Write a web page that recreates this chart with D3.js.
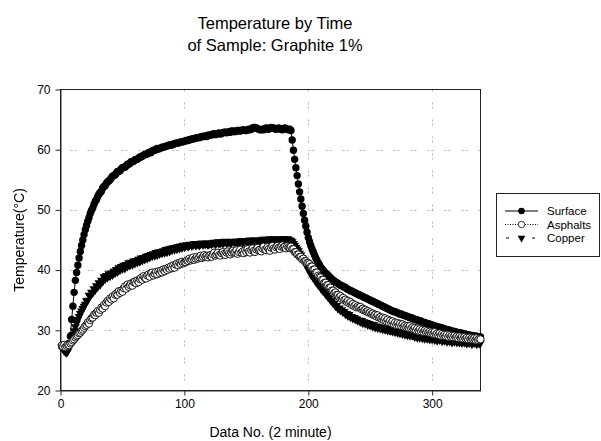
<!DOCTYPE html>
<html lang="en">
<head>
<meta charset="UTF-8">
<title>Temperature by Time</title>
<script src="https://d3js.org/d3.v7.min.js"></script>
<style>
  body {
    margin: 0;
    background: #fff;
    font-family: "Liberation Sans", Arial, sans-serif;
  }
  svg { display: block; }
  text { fill: #000; }
  .tick text { font-size: 12px; }
  .axis-title { font-size: 14px; }
  .title { font-size: 16.5px; }
  .legend-text { font-size: 11.5px; }
</style>
</head>
<body>
<div id="chart"></div>
<script>
  // Data No. runs 1..339, one reading every 2 minutes
  const surface = [
    27.3, 27.5, 27.2, 27.4, 27.6, 27.3, 27.8, 29.0, 31.8, 34.0, 36.3, 38.3, 39.6, 40.8, 42.0, 43.1, 44.1, 45.0, 45.9, 46.7,
    47.4, 48.1, 48.7, 49.4, 49.9, 50.3, 50.9, 51.4, 51.7, 52.2, 52.6, 52.9, 53.1, 53.6, 53.9, 54.0, 54.4, 54.7, 54.8, 55.0,
    55.3, 55.6, 55.7, 55.8, 56.1, 56.4, 56.4, 56.5, 56.8, 57.0, 57.1, 57.1, 57.3, 57.6, 57.6, 57.7, 58.0, 58.0, 58.1, 58.3,
    58.4, 58.4, 58.6, 58.8, 58.8, 58.9, 59.1, 59.2, 59.2, 59.3, 59.5, 59.6, 59.5, 59.8, 59.9, 59.9, 60.0, 60.2, 60.1, 60.2,
    60.3, 60.4, 60.4, 60.5, 60.6, 60.6, 60.7, 60.8, 60.8, 60.8, 60.9, 61.0, 61.1, 61.1, 61.1, 61.2, 61.3, 61.3, 61.3, 61.4,
    61.5, 61.5, 61.6, 61.6, 61.7, 61.8, 61.8, 61.8, 61.9, 62.0, 62.0, 62.0, 62.1, 62.2, 62.2, 62.2, 62.3, 62.2, 62.4, 62.4,
    62.4, 62.5, 62.6, 62.6, 62.5, 62.6, 62.7, 62.8, 62.6, 62.7, 62.8, 62.9, 62.9, 62.8, 62.9, 63.0, 62.9, 63.1, 63.0, 63.1,
    63.0, 63.1, 63.2, 63.2, 63.1, 63.2, 63.3, 63.3, 63.2, 63.2, 63.3, 63.4, 63.3, 63.4, 63.6, 63.7, 63.7, 63.6, 63.5, 63.4,
    63.3, 63.3, 63.4, 63.3, 63.5, 63.6, 63.5, 63.4, 63.6, 63.7, 63.6, 63.6, 63.5, 63.4, 63.5, 63.6, 63.5, 63.4, 63.3, 63.5,
    63.6, 63.5, 63.4, 63.3, 63.4, 63.2, 61.6, 59.9, 58.4, 57.0, 55.7, 54.3, 53.0, 51.8, 50.6, 49.4, 48.3, 47.3, 46.3, 45.4,
    44.7, 44.1, 43.5, 43.0, 42.5, 42.0, 41.6, 41.2, 40.9, 40.5, 40.2, 40.0, 39.7, 39.5, 39.3, 39.1, 38.9, 38.7, 38.5, 38.3,
    38.2, 38.0, 37.9, 37.8, 37.6, 37.5, 37.4, 37.3, 37.2, 37.1, 36.9, 36.8, 36.7, 36.6, 36.5, 36.4, 36.3, 36.2, 36.1, 36.0,
    35.9, 35.8, 35.7, 35.6, 35.5, 35.4, 35.3, 35.2, 35.1, 35.0, 34.9, 34.8, 34.7, 34.6, 34.5, 34.4, 34.3, 34.2, 34.1, 34.0,
    33.9, 33.8, 33.7, 33.6, 33.5, 33.4, 33.3, 33.2, 33.1, 33.1, 33.0, 32.9, 32.8, 32.7, 32.7, 32.6, 32.5, 32.4, 32.4, 32.3,
    32.2, 32.1, 32.1, 32.0, 31.9, 31.8, 31.8, 31.7, 31.6, 31.6, 31.5, 31.4, 31.3, 31.3, 31.2, 31.1, 31.1, 31.0, 30.9, 30.9,
    30.8, 30.7, 30.7, 30.6, 30.5, 30.5, 30.4, 30.4, 30.3, 30.2, 30.2, 30.1, 30.1, 30.0, 29.9, 29.9, 29.8, 29.8, 29.7, 29.7,
    29.6, 29.6, 29.5, 29.5, 29.4, 29.4, 29.3, 29.3, 29.2, 29.2, 29.2, 29.1, 29.1, 29.0, 29.0, 29.0, 28.9, 28.9, 28.9
  ];

  const asphalts = [
    27.5, 27.3, 27.6, 27.2, 27.4, 27.6, 27.5, 27.8, 28.0, 28.3, 28.5, 28.8, 29.0, 29.2, 29.5, 29.6, 29.9, 30.1, 30.4, 30.7,
    30.9, 31.3, 31.1, 31.7, 32.0, 32.1, 32.6, 32.5, 32.9, 33.2, 32.9, 33.4, 33.8, 33.6, 34.2, 34.0, 34.6, 34.9, 34.7, 35.3,
    35.1, 35.6, 35.3, 35.9, 36.1, 35.9, 36.5, 36.2, 36.6, 36.4, 37.0, 37.3, 36.9, 37.6, 37.2, 37.5, 37.8, 37.4, 38.0, 38.1,
    37.8, 38.3, 38.0, 38.5, 38.7, 38.4, 39.0, 38.7, 38.6, 39.1, 39.3, 38.9, 39.5, 39.6, 39.1, 39.4, 39.7, 39.3, 39.8, 39.5,
    39.9, 39.6, 40.1, 39.8, 40.2, 40.0, 40.4, 40.2, 40.6, 40.3, 40.8, 40.4, 40.9, 41.1, 40.8, 41.2, 41.0, 41.4, 41.1, 41.3,
    41.3, 41.6, 41.5, 41.9, 41.6, 41.8, 42.1, 41.7, 41.9, 42.2, 41.9, 42.1, 42.4, 42.0, 42.2, 42.5, 42.2, 42.4, 42.1, 42.4,
    42.5, 42.2, 42.6, 42.9, 42.4, 42.6, 42.9, 42.5, 42.4, 42.8, 43.0, 42.7, 42.5, 42.9, 43.1, 42.8, 42.6, 42.9, 43.2, 42.9,
    43.0, 43.3, 42.7, 43.0, 43.4, 42.9, 43.1, 42.8, 43.3, 43.0, 43.5, 43.1, 42.9, 43.3, 43.6, 43.2, 43.0, 43.4, 43.7, 43.3,
    43.4, 43.1, 43.6, 43.9, 43.4, 43.3, 43.8, 43.5, 43.2, 43.7, 44.0, 43.6, 43.4, 43.8, 44.0, 43.7, 43.5, 43.9, 44.1, 43.8,
    43.9, 43.6, 44.0, 43.8, 43.7, 43.9, 43.5, 43.5, 43.0, 43.0, 42.6, 42.6, 42.2, 42.2, 41.8, 41.9, 41.5, 41.5, 41.2, 41.2,
    41.0, 40.6, 40.6, 40.1, 40.1, 39.6, 39.6, 39.1, 38.9, 38.8, 38.4, 38.4, 37.9, 37.9, 37.5, 37.5, 37.1, 37.1, 36.6, 36.6,
    36.2, 36.3, 35.9, 35.9, 35.5, 35.7, 35.2, 35.4, 35.0, 35.1, 34.7, 34.9, 34.5, 34.7, 34.2, 34.4, 34.0, 34.2, 33.8, 34.0,
    33.8, 33.9, 33.5, 33.6, 33.3, 33.4, 33.1, 33.2, 32.9, 33.0, 32.7, 32.8, 32.5, 32.6, 32.3, 32.5, 32.1, 32.2, 31.9, 32.1,
    31.7, 32.0, 31.5, 31.8, 31.3, 31.6, 31.2, 31.5, 31.0, 31.3, 30.9, 31.2, 30.8, 31.1, 30.7, 31.0, 30.6, 30.8, 30.5, 30.7,
    30.4, 30.7, 30.3, 30.5, 30.2, 30.4, 30.0, 30.3, 29.9, 30.2, 29.8, 30.1, 29.7, 30.0, 29.7, 29.9, 29.6, 29.8, 29.5, 29.7,
    29.4, 29.7, 29.3, 29.5, 29.2, 29.5, 29.1, 29.4, 29.1, 29.3, 29.0, 29.3, 28.9, 29.2, 28.9, 29.1, 28.8, 29.1, 28.8, 29.0,
    28.7, 29.0, 28.7, 28.9, 28.6, 28.9, 28.6, 28.8, 28.5, 28.8, 28.5, 28.7, 28.5, 28.7, 28.4, 28.7, 28.4, 28.6, 28.5
  ];

  const copper = [
    27.2, 26.9, 26.6, 26.4, 26.3, 26.6, 27.2, 27.9, 28.6, 29.3, 29.9, 30.6, 31.2, 31.8, 32.3, 32.8, 33.2, 33.6, 34.0, 34.3,
    34.9, 35.0, 35.8, 35.7, 36.3, 36.2, 36.9, 36.7, 37.4, 37.2, 37.9, 37.6, 38.3, 38.1, 38.9, 38.5, 39.1, 38.8, 39.4, 39.0,
    39.5, 39.2, 39.8, 39.5, 40.1, 39.7, 40.4, 40.0, 40.6, 40.2, 40.8, 40.3, 40.9, 40.6, 41.2, 40.8, 41.3, 40.9, 41.5, 41.1,
    41.6, 41.3, 41.8, 41.4, 42.0, 41.6, 42.1, 41.8, 42.3, 41.9, 42.4, 42.1, 42.6, 42.3, 42.7, 42.4, 42.9, 42.5, 43.0, 42.7,
    43.1, 42.8, 43.2, 42.9, 43.4, 43.0, 43.5, 43.1, 43.6, 43.3, 43.7, 43.4, 43.8, 43.5, 43.9, 43.6, 44.0, 43.7, 44.1, 43.8,
    44.0, 44.2, 43.9, 44.1, 44.3, 44.0, 44.2, 44.4, 44.1, 44.2, 44.4, 44.1, 44.3, 44.5, 44.2, 44.4, 44.3, 44.5, 44.2, 44.3,
    44.5, 44.3, 44.5, 44.6, 44.3, 44.5, 44.7, 44.4, 44.5, 44.7, 44.4, 44.6, 44.8, 44.5, 44.6, 44.7, 44.5, 44.6, 44.8, 44.7,
    44.6, 44.8, 44.7, 44.5, 44.8, 44.9, 44.6, 44.7, 44.9, 44.8, 44.6, 44.8, 45.0, 44.7, 44.8, 45.0, 44.7, 44.9, 44.8, 45.0,
    44.8, 44.9, 45.1, 44.8, 44.9, 45.1, 44.8, 45.0, 45.2, 44.9, 45.0, 45.2, 44.9, 45.1, 45.0, 44.9, 45.2, 45.1, 45.0, 45.2,
    45.1, 45.0, 45.2, 45.1, 45.0, 44.9, 44.7, 44.4, 44.1, 43.8, 43.5, 43.2, 42.8, 42.5, 42.1, 41.7, 41.3, 40.9, 40.5, 40.1,
    39.9, 39.3, 39.2, 38.7, 38.6, 38.1, 38.0, 37.5, 37.5, 37.0, 36.9, 36.5, 36.4, 36.0, 35.9, 35.5, 35.4, 35.0, 34.9, 34.5,
    34.5, 34.0, 34.1, 33.6, 33.7, 33.3, 33.4, 33.0, 33.1, 32.7, 32.8, 32.4, 32.6, 32.2, 32.3, 32.0, 32.1, 31.8, 31.9, 31.6,
    31.7, 31.4, 31.6, 31.2, 31.4, 31.1, 31.3, 30.9, 31.1, 30.8, 31.0, 30.6, 30.9, 30.5, 30.7, 30.4, 30.6, 30.3, 30.5, 30.2,
    30.4, 30.1, 30.3, 30.0, 30.2, 29.9, 30.1, 29.8, 30.0, 29.7, 29.9, 29.6, 29.8, 29.5, 29.7, 29.4, 29.6, 29.3, 29.5, 29.2,
    29.4, 29.1, 29.3, 29.1, 29.2, 28.9, 29.2, 28.8, 29.1, 28.8, 29.0, 28.7, 28.9, 28.6, 28.9, 28.6, 28.8, 28.5, 28.8, 28.5,
    28.7, 28.4, 28.7, 28.3, 28.6, 28.4, 28.6, 28.2, 28.5, 28.3, 28.5, 28.1, 28.4, 28.2, 28.4, 28.0, 28.3, 28.1, 28.4, 28.0,
    28.3, 28.0, 28.2, 27.9, 28.2, 28.0, 28.1, 27.8, 28.1, 27.9, 28.1, 27.7, 28.0, 27.9, 28.0, 27.7, 28.0, 27.8, 27.9
  ];

  const xTicks = [0, 100, 200, 300];
  const yTicks = [20, 30, 40, 50, 60, 70];
  const xGrid = [100, 200, 300];
  const yGrid = [30, 40, 50, 60];
  const seriesNames = ["Surface", "Asphalts", "Copper"];

  const width = 601, height = 441;
  const plot = {left: 60.5, right: 480.5, top: 89.5, bottom: 390.5};

  const svg = d3.select("#chart")
                .append("svg")
                .attr("width", width)
                .attr("height", height);

  // no-op filter so the rotated label is rasterised with plain greyscale AA
  svg.append("defs")
     .append("filter")
     .attr("id", "flat")
     .append("feOffset")
     .attr("dx", 0)
     .attr("dy", 0);

  const x = d3.scaleLinear().domain([0, 339]).range([plot.left, plot.right]);
  const y = d3.scaleLinear().domain([20, 70]).range([plot.bottom, plot.top]);

  // grid (dotted grey)
  const gridStyle = sel => sel.attr("stroke", "#b4b4b4")
                              .attr("stroke-width", 1)
                              .attr("stroke-dasharray", "2,2,2,11")
                              .attr("stroke-dashoffset", 7);

  svg.selectAll("line.gx")
     .data(xGrid)
     .enter()
     .append("line")
     .attr("class", "gx")
     .attr("x1", d => Math.round(x(d)) + 0.5)
     .attr("x2", d => Math.round(x(d)) + 0.5)
     .attr("y1", plot.bottom)
     .attr("y2", plot.top)
     .call(gridStyle);

  svg.selectAll("line.gy")
     .data(yGrid)
     .enter()
     .append("line")
     .attr("class", "gy")
     .attr("x1", plot.left)
     .attr("x2", plot.right)
     .attr("y1", d => Math.round(y(d)) + 0.5)
     .attr("y2", d => Math.round(y(d)) + 0.5)
     .call(gridStyle);

  // axes
  const xAxis = svg.append("g")
     .attr("transform", `translate(0, ${plot.bottom})`)
     .call(d3.axisBottom(x).tickValues(xTicks).tickSize(5).tickSizeOuter(0).tickPadding(4));

  const yAxis = svg.append("g")
     .attr("transform", `translate(${plot.left}, 0)`)
     .call(d3.axisLeft(y).tickValues(yTicks).tickSize(5).tickSizeOuter(0).tickPadding(5));

  [xAxis, yAxis].forEach(g => {
    g.selectAll("path, line").attr("stroke", "#222");
    g.selectAll("text")
     .attr("font-family", "Liberation Sans, Arial, sans-serif")
     .attr("fill", "#000");
  });

  // frame
  svg.append("rect")
     .attr("x", plot.left)
     .attr("y", plot.top)
     .attr("width", plot.right - plot.left)
     .attr("height", plot.bottom - plot.top)
     .attr("fill", "none")
     .attr("stroke", "#222");

  const line = d3.line()
                 .x((d, i) => x(i + 1))
                 .y(d => y(d));

  const tri = d3.symbol().type(d3.symbolTriangle).size(34);

  // Surface
  svg.append("path")
     .datum(surface)
     .attr("d", line)
     .attr("fill", "none")
     .attr("stroke", "#000")
     .attr("stroke-width", 1);

  svg.selectAll("circle.surface")
     .data(surface)
     .enter()
     .append("circle")
     .attr("class", "surface")
     .attr("cx", (d, i) => x(i + 1))
     .attr("cy", d => y(d))
     .attr("r", 3.7)
     .attr("fill", "#000");

  // Copper
  svg.append("path")
     .datum(copper)
     .attr("d", line)
     .attr("fill", "none")
     .attr("stroke", "#000")
     .attr("stroke-dasharray", "3,3")
     .attr("stroke-width", 1);

  svg.selectAll("path.copper")
     .data(copper)
     .enter()
     .append("path")
     .attr("class", "copper")
     .attr("d", tri)
     .attr("transform", (d, i) => `translate(${x(i + 1)},${y(d)}) rotate(180)`)
     .attr("fill", "#000");

  // Asphalts
  svg.append("path")
     .datum(asphalts)
     .attr("d", line)
     .attr("fill", "none")
     .attr("stroke", "#000")
     .attr("stroke-dasharray", "1,1.5")
     .attr("stroke-width", 1);

  svg.selectAll("circle.asphalts")
     .data(asphalts)
     .enter()
     .append("circle")
     .attr("class", "asphalts")
     .attr("cx", (d, i) => x(i + 1))
     .attr("cy", d => y(d))
     .attr("r", 3.6)
     .attr("fill", "#fff")
     .attr("stroke", "#000")
     .attr("stroke-width", 0.9);

  // Titles
  svg.append("text")
     .attr("class", "title")
     .attr("x", 275)
     .attr("y", 29)
     .attr("text-anchor", "middle")
     .text("Temperature by Time");

  svg.append("text")
     .attr("class", "title")
     .attr("x", 275)
     .attr("y", 51)
     .attr("text-anchor", "middle")
     .text("of Sample: Graphite 1%");

  svg.append("text")
     .attr("class", "axis-title")
     .attr("x", (plot.left + plot.right) / 2)
     .attr("y", 437)
     .attr("text-anchor", "middle")
     .text("Data No. (2 minute)");

  svg.append("g")
     .attr("filter", "url(#flat)")
     .append("text")
     .attr("class", "axis-title")
     .attr("transform", `translate(24, ${(plot.top + plot.bottom) / 2}) rotate(-90)`)
     .attr("text-anchor", "middle")
     .text("Temperature(°C)");

  // Legend
  const legend = svg.append("g");

  legend.append("rect")
        .attr("x", 496.5)
        .attr("y", 193.5)
        .attr("width", 103)
        .attr("height", 63)
        .attr("fill", "#fff")
        .attr("stroke", "#222");

  const rowY = [211, 224.5, 238];

  seriesNames.forEach((name, k) => {
    const ly = rowY[k];
    const seg = legend.append("line")
          .attr("x1", 505)
          .attr("x2", 538)
          .attr("y1", ly)
          .attr("y2", ly)
          .attr("stroke", "#000");
    if (k === 1) seg.attr("stroke-dasharray", "1,1.5");
    if (k === 2) seg.attr("stroke-dasharray", "3,10").attr("x1", 506).attr("x2", 538);

    if (k === 0) {
      legend.append("circle").attr("cx", 521.5).attr("cy", ly).attr("r", 3.3).attr("fill", "#000");
    } else if (k === 1) {
      legend.append("circle").attr("cx", 521.5).attr("cy", ly).attr("r", 3.2)
            .attr("fill", "#fff").attr("stroke", "#000").attr("stroke-width", 0.8);
    } else {
      legend.append("path").attr("d", d3.symbol().type(d3.symbolTriangle).size(26))
            .attr("transform", `translate(521.5,${ly}) rotate(180)`)
            .attr("fill", "#000");
    }

    legend.append("text")
          .attr("class", "legend-text")
          .attr("x", 547)
          .attr("y", ly)
          .attr("dy", "0.35em")
          .text(name);
  });
</script>
</body>
</html>
